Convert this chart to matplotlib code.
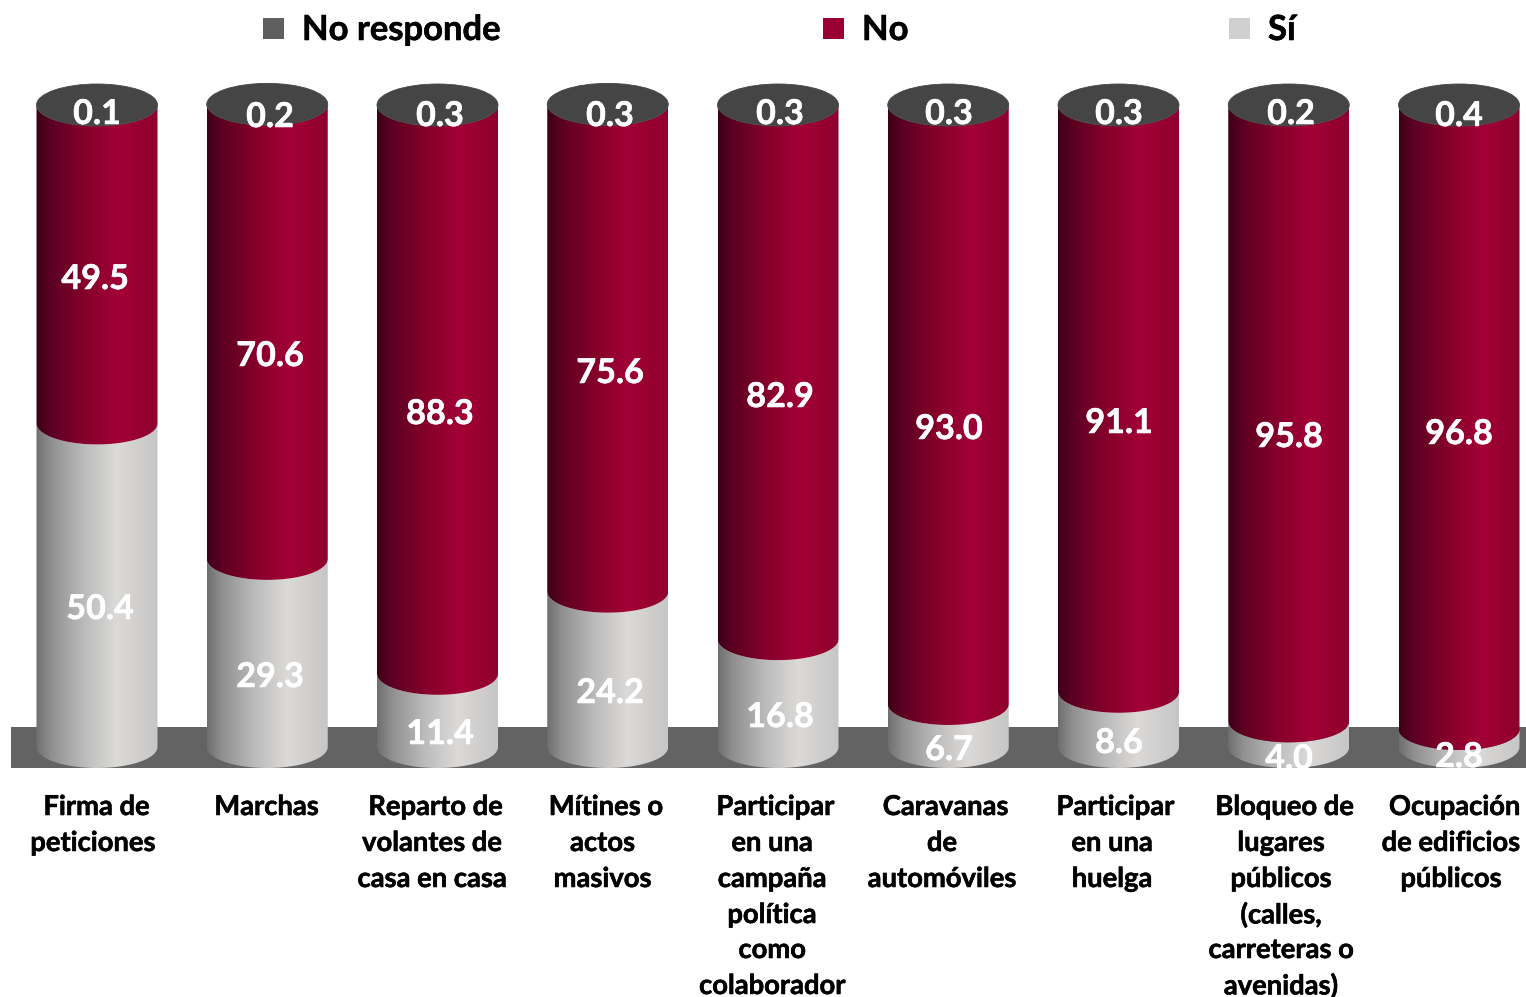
import numpy as np
import matplotlib
matplotlib.use("Agg")
import matplotlib.pyplot as plt
import matplotlib.patheffects as pe
from matplotlib.colors import LinearSegmentedColormap
from matplotlib.patches import Ellipse, PathPatch, Rectangle
from matplotlib.path import Path
from matplotlib.transforms import Affine2D

# ---- data ----
categories = [
    ["Firma de ", "peticiones"],
    ["Marchas "],
    ["Reparto de ", "volantes de", "casa en casa"],
    ["Mítines o ", "actos", "masivos"],
    ["Participar ", "en una", "campaña", "política", "como", "colaborador"],
    ["Caravanas ", "de", "automóviles"],
    ["Participar ", "en una", "huelga"],
    ["Bloqueo de ", "lugares", "públicos", "(calles,", "carreteras o", "avenidas)"],
    ["Ocupación ", "de edificios", "públicos"],
]
si = [50.4, 29.3, 11.4, 24.2, 16.8, 6.7, 8.6, 4.0, 2.8]
no = [49.5, 70.6, 88.3, 75.6, 82.9, 93.0, 91.1, 95.8, 96.8]
no_responde = [0.1, 0.2, 0.3, 0.3, 0.3, 0.3, 0.3, 0.2, 0.4]
legend_names = ["No responde", "No", "Sí"]

# ---- label placement (pixels of the 1526x997 picture) ----
nr_label_xy = [(97, 114), (270, 117), (440, 116), (610, 116), (780, 114),
               (949, 114), (1119, 114), (1291, 114), (1459, 116)]
no_label_xy = [(95, 279), (270, 356), (440, 414), (610, 373), (780, 397),
               (949, 429), (1119, 423), (1289, 437), (1459, 434)]
si_label_xy = [(100, 609), (270, 677), (440, 734), (610, 693), (780, 717),
               (949, 750), (1119, 743), (1289, 759), (1459, 757)]
tick_label_cx = [93, 263, 432, 602.5, 772, 942, 1112, 1281, 1451]
tick_line_y = [807, 843, 879, 915, 950, 986]
legend_x = [263, 823, 1229]

W, H = 1526, 997
plt.rcParams["font.family"] = ["Lato", "DejaVu Sans"]
fig = plt.figure(figsize=(W / 100, H / 100), dpi=100)
ax = fig.add_axes([0, 0, 1, 1])
ax.axis("off")

# scales: category index on x, percent on y
X0, DX, Y0, DY = 97.0, 170.25, 747.0, 6.42
xlim = (-X0 / DX, (W - X0) / DX)
ylim = ((Y0 - H) / DY, Y0 / DY)
HALF_W = 60.5 / DX
RY = 21 / DY

px = Affine2D().scale(1 / W, -1 / H).translate(0, 1) + fig.transFigure

red_cmap = LinearSegmentedColormap.from_list(
    "r", [(0, "#3c0016"), (0.12, "#5c0022"), (0.4, "#85002b"), (0.68, "#a20036"), (1, "#8e002e")])
gray_cmap = LinearSegmentedColormap.from_list(
    "g", [(0, "#6f6f6f"), (0.12, "#8f8f8f"), (0.4, "#bcbcbc"), (0.66, "#dcdad8"), (1, "#c6c6c6")])
grad = np.linspace(0, 1, 256).reshape(1, -1)

ax.add_patch(Rectangle((11, 727), W - 11, 41, transform=px, fc="#636363", ec="none", zorder=0.5))


def segment(i, lo, hi, cmap, z):
    t = np.linspace(np.pi, 2 * np.pi, 60)
    xs = i + HALF_W * np.cos(t)
    lower = np.column_stack([xs, lo + RY * np.sin(t)])
    upper = np.column_stack([xs[::-1], hi + RY * np.sin(t[::-1])])
    verts = np.vstack([lower, upper, lower[:1]])
    patch = PathPatch(Path(verts), transform=ax.transData, fc="none", ec="none")
    im = ax.imshow(grad, extent=(i - HALF_W, i + HALF_W, lo - 2 * RY, hi + 2 * RY),
                   cmap=cmap, vmin=0, vmax=1, aspect="auto", zorder=z,
                   interpolation="bilinear")
    im.set_clip_path(patch)


for i in range(len(si)):
    s, n, r = si[i], no[i], no_responde[i]
    segment(i, 0, s, gray_cmap, 2.0)
    segment(i, s, s + n + r, red_cmap, 2.1)
    ax.add_patch(Ellipse((i, s + n + r), 2 * HALF_W, 2 * RY, fc="#454545", ec="#454545",
                         lw=0.6, zorder=3))

ax.set_xlim(*xlim)
ax.set_ylim(*ylim)

VAL_FS = 24.6
TICK_FS = 19.7
LEG_FS = 24.9


def heavy(color):
    return [pe.withStroke(linewidth=0.4, foreground=color)]


for vals, xy in ((no_responde, nr_label_xy), (no, no_label_xy), (si, si_label_xy)):
    for v, (x, y) in zip(vals, xy):
        ax.text(x, y, f"{v:.1f}", transform=px, ha="center", va="center", color="white",
                fontsize=VAL_FS, fontweight="bold", zorder=5, path_effects=heavy("white"))

for cx, lines in zip(tick_label_cx, categories):
    for k, line in enumerate(lines):
        shift = 3.5 if line.endswith(" ") else 0
        ax.text(cx + shift, tick_line_y[k], line.strip(), transform=px, ha="center", va="center",
                color="black", fontsize=TICK_FS, fontweight="bold", zorder=5,
                path_effects=heavy("black"))

legend_colors = ["#5f5f5f", "#990033", "#d0d0d0"]
for name, x, c in zip(legend_names, legend_x, legend_colors):
    ax.add_patch(Rectangle((x, 18), 21, 21, transform=px, fc=c, ec="none", zorder=5))
    ax.text(x + 39, 30, name, transform=px, ha="left", va="center", color="black",
            fontsize=LEG_FS, fontweight="bold", zorder=5, path_effects=heavy("black"))

fig.savefig("out.png", dpi=100, facecolor="white")
